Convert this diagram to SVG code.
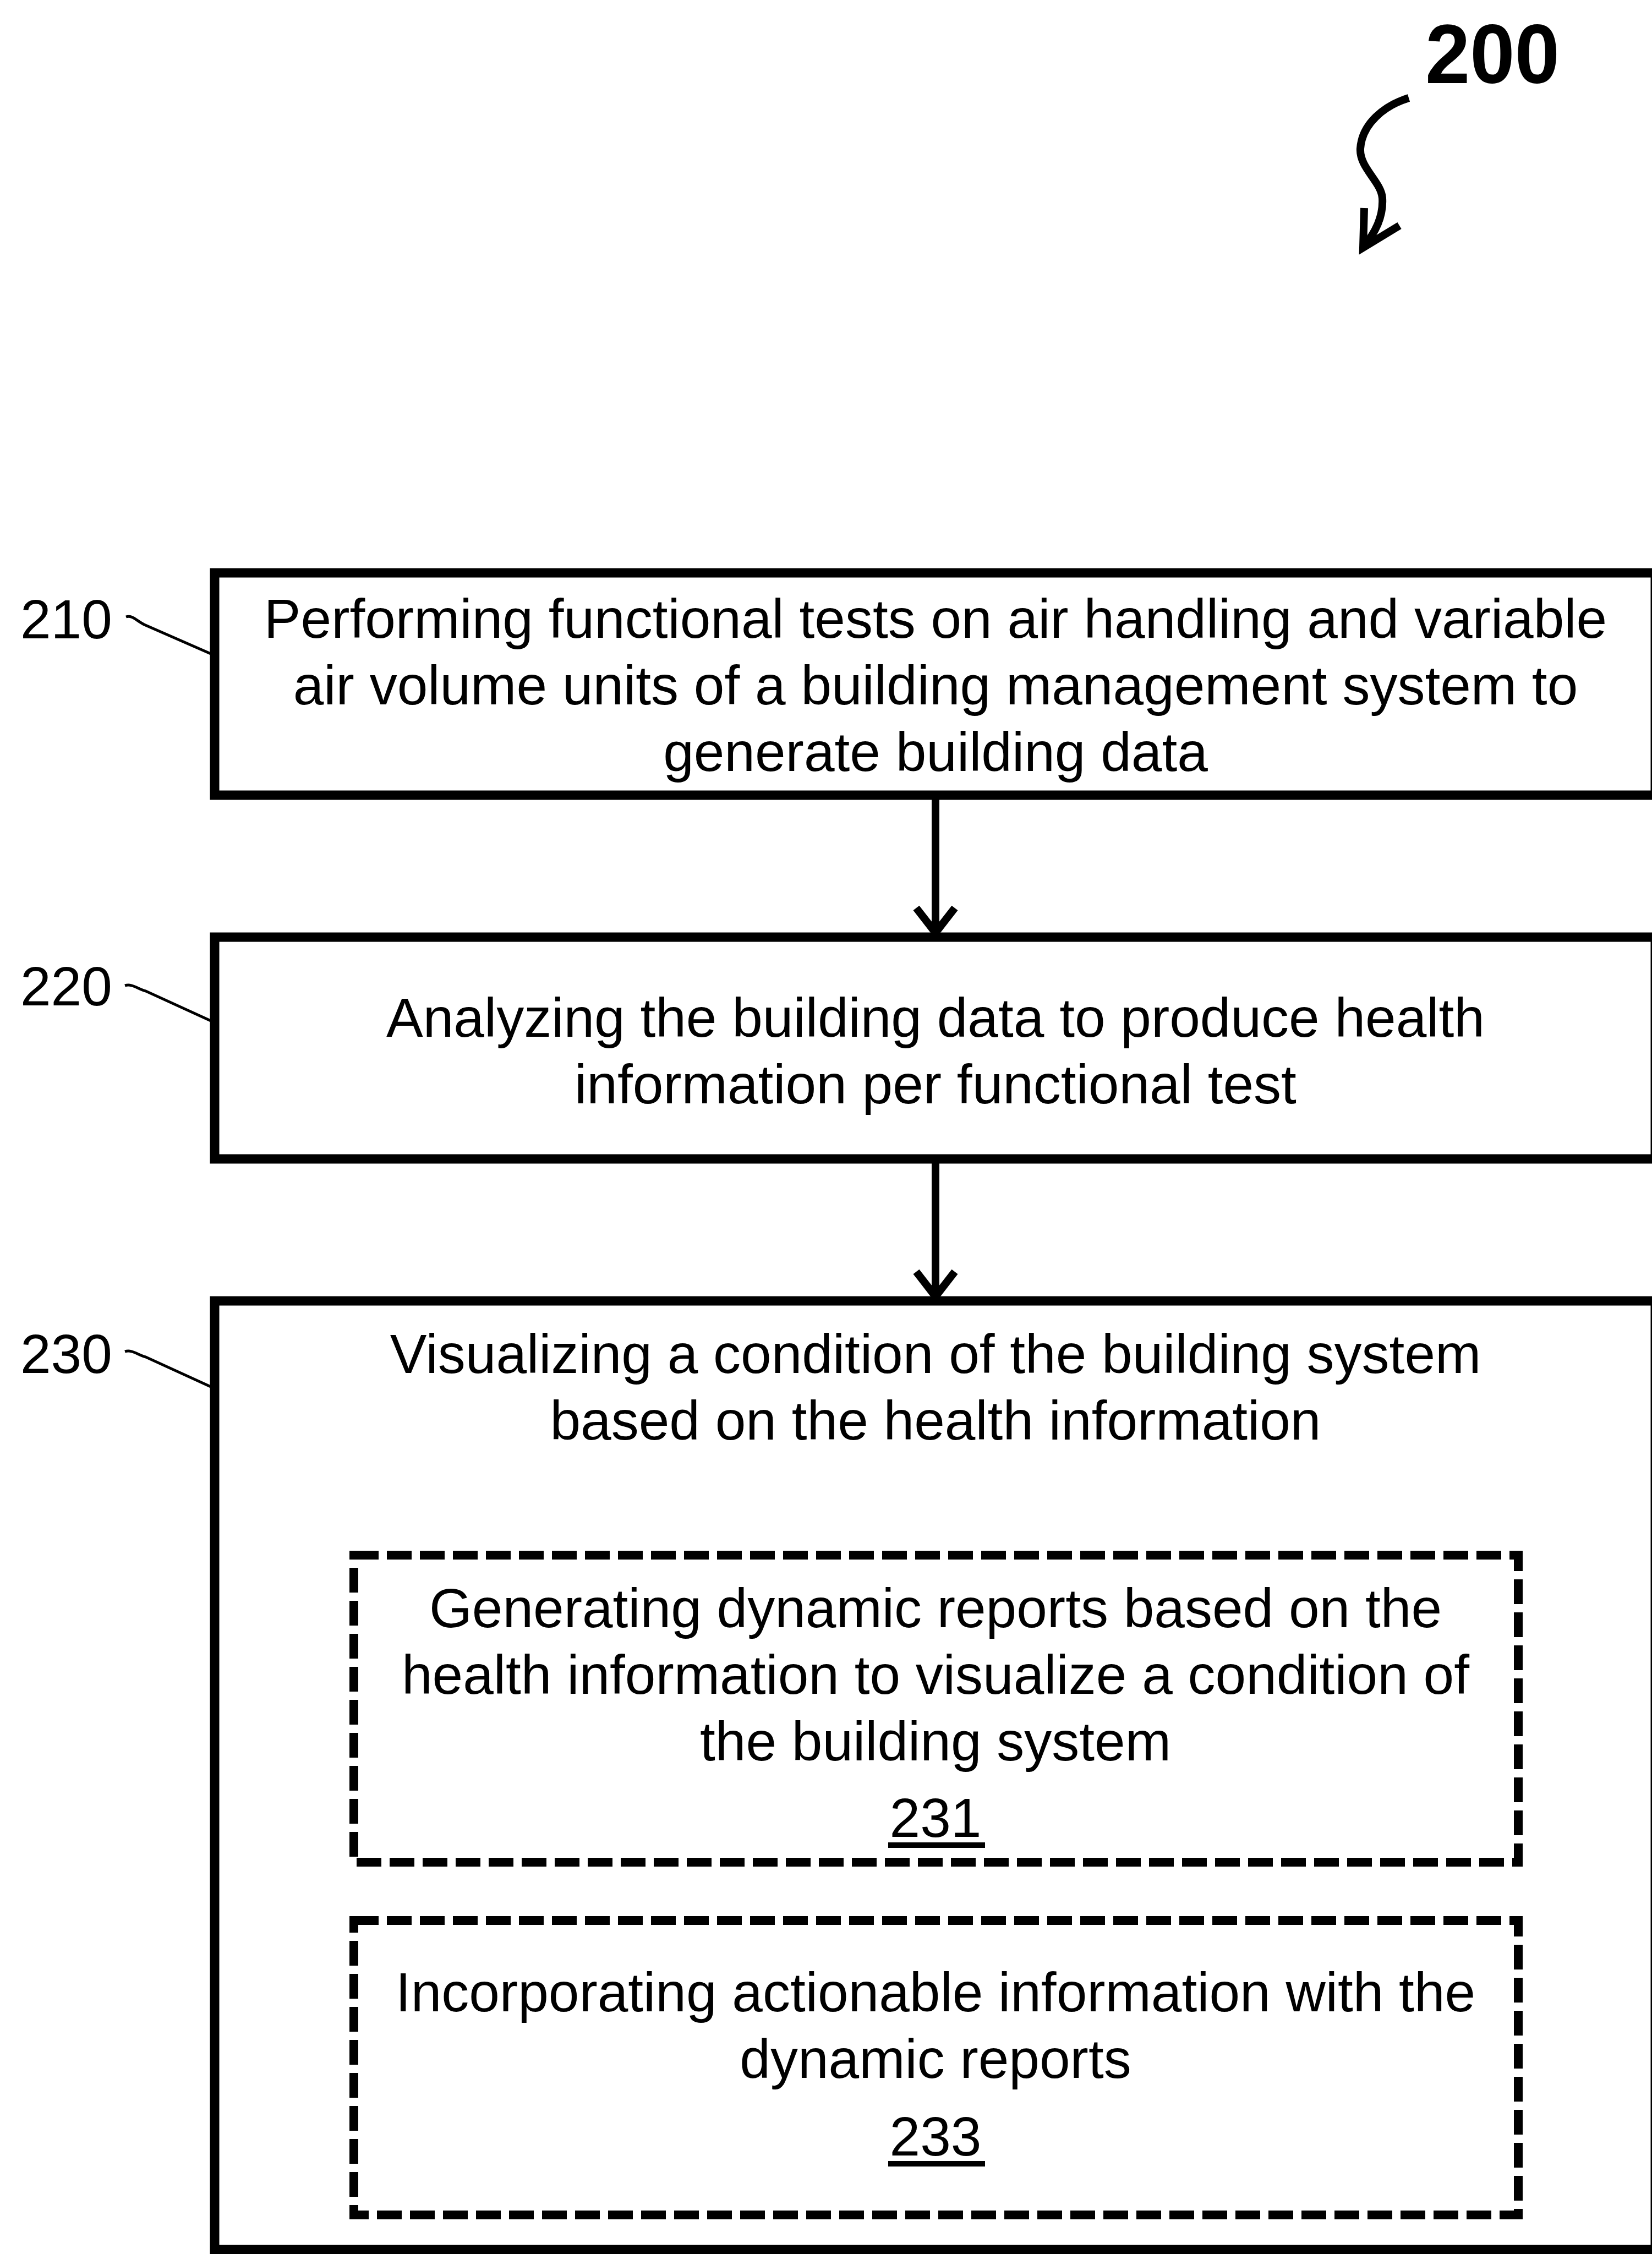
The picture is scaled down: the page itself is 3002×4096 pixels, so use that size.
<svg xmlns="http://www.w3.org/2000/svg" width="3002" height="4096" viewBox="0 0 3002 4096">
<style>
.box{fill:none;stroke:#000;stroke-width:17}
.dbox{fill:none;stroke:#000;stroke-width:16;stroke-dasharray:45 15}
.t{font-family:"Liberation Sans",Arial,sans-serif;font-size:100px;fill:#000;text-anchor:middle}
.lbl{font-family:"Liberation Sans",Arial,sans-serif;font-size:100px;fill:#000}
.lead{fill:none;stroke:#000;stroke-width:5}
.conn{fill:none;stroke:#000;stroke-width:14}
.ul{stroke:#000;stroke-width:10}
</style>
<rect width="3002" height="4096" fill="#fff"/>
<g id="title">
<text x="2590" y="151" font-family="Liberation Sans,Arial,sans-serif" font-weight="bold" font-size="152" textLength="244" lengthAdjust="spacingAndGlyphs">200</text>
<path class="conn" d="M2560,178 C2515,192 2475,225 2472,270 C2470,305 2510,330 2512,360 C2514,392 2500,422 2478,448"/>
<polyline class="conn" points="2479,378 2477,450 2543,410" stroke-linejoin="miter"/>
</g>
<g id="node210">
<text class="lbl" x="37" y="1160">210</text>
<path class="lead" d="M229,1121 C240,1117 248,1128 262,1135 L383,1188"/>
<rect class="box" x="390" y="1041" width="2618" height="404"/>
<text class="t" x="1700" y="1159">Performing functional tests on air handling and variable</text>
<text class="t" x="1700" y="1280">air volume units of a building management system to</text>
<text class="t" x="1700" y="1401">generate building data</text>
</g>
<g id="node220">
<text class="lbl" x="37" y="1827">220</text>
<path class="lead" d="M227,1791 C240,1787 250,1797 265,1801 L383,1855"/>
<rect class="box" x="390" y="1703" width="2618" height="403"/>
<text class="t" x="1700" y="1884">Analyzing the building data to produce health</text>
<text class="t" x="1700" y="2005">information per functional test</text>
</g>
<g id="node230">
<text class="lbl" x="37" y="2495">230</text>
<path class="lead" d="M227,2456 C240,2452 250,2462 265,2466 L383,2520"/>
<rect class="box" x="390" y="2364" width="2618" height="1724"/>
<text class="t" x="1700" y="2495">Visualizing a condition of the building system</text>
<text class="t" x="1700" y="2616">based on the health information</text>
</g>
<g id="node231">
<rect class="dbox" x="643" y="2826" width="2116" height="558"/>
<text class="t" x="1700" y="2957">Generating dynamic reports based on the</text>
<text class="t" x="1700" y="3078">health information to visualize a condition of</text>
<text class="t" x="1700" y="3199">the building system</text>
<text class="t" x="1700" y="3338">231</text>
<line class="ul" x1="1614" y1="3353" x2="1790" y2="3353"/>
</g>
<g id="node233">
<rect class="dbox" x="643" y="3490" width="2116" height="535"/>
<text class="t" x="1700" y="3655">Incorporating actionable information with the</text>
<text class="t" x="1700" y="3776">dynamic reports</text>
<text class="t" x="1700" y="3917">233</text>
<line class="ul" x1="1614" y1="3932" x2="1790" y2="3932"/>
</g>
<g id="connectors">
<line class="conn" x1="1700" y1="1445" x2="1700" y2="1693"/>
<polyline class="conn" points="1665,1650 1700,1695 1735,1650"/>
<line class="conn" x1="1700" y1="2106" x2="1700" y2="2354"/>
<polyline class="conn" points="1665,2311 1700,2356 1735,2311"/>
</g>
</svg>
